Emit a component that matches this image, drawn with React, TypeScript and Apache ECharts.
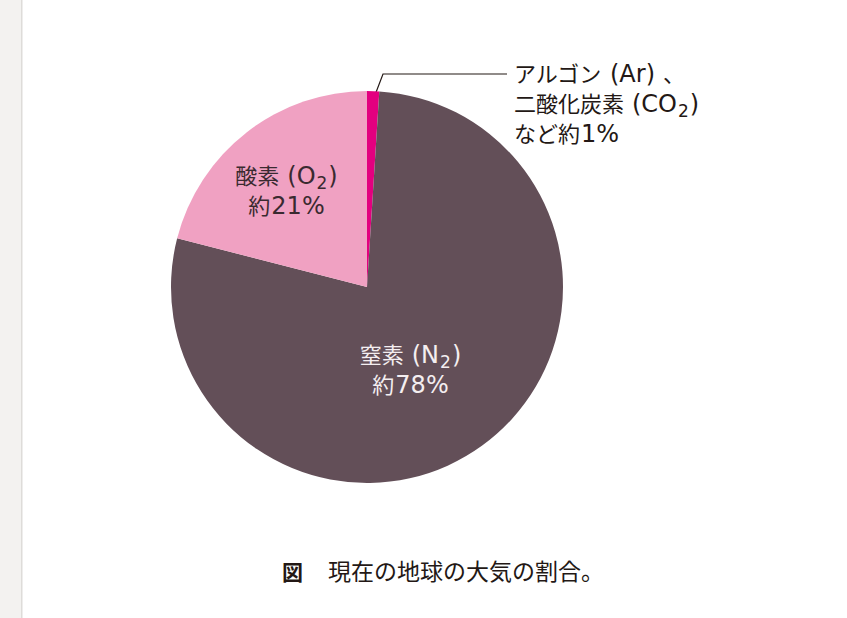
import React, { useEffect, useRef } from "react";
import * as echarts from "echarts";

const names = ["アルゴン (Ar)、二酸化炭素 (CO2) など", "窒素 (N2)", "酸素 (O2)"];
const values = [1, 78, 21];
const labelTexts = [
  "アルゴン {l|(Ar)} 、\n二酸化炭素 {l|(CO}{sub|2}{l|)}\nなど約{l|1%}",
  "窒素 {l|(N}{sub|2}{l|)}\n約{l|78%}",
  "酸素 {l|(O}{sub|2}{l|)}\n約{l|21%}",
];
const colors = ["#e3007f", "#634f58", "#f0a1c2"];
const textColors = ["#231815", "#f4eef0", "#3a2a30"];
const caption = "現在の地球の大気の割合。";

const FONT = '"DejaVu Sans", "Noto Sans CJK JP", sans-serif';
const CAP_FONT = '"Noto Sans CJK JP", sans-serif';

export default function App() {
  const ref = useRef<HTMLDivElement>(null);
  useEffect(() => {
    document.body.style.margin = "0";
    const chart = echarts.init(ref.current!, null, { renderer: "svg" });
    const labelPos: any[] = [
      { x: 514, y: 59, align: "left", verticalAlign: "top", pts: [[375, 95], [383, 74], [507, 74]] },
      { x: 411, y: 370, align: "center", verticalAlign: "middle" },
      { x: 287, y: 191, align: "center", verticalAlign: "middle" },
    ];
    const mkRich = (c: string) => ({
      l: { fontSize: 24, color: c, fontFamily: FONT, lineHeight: 30, padding: [0, 1, 0, 1] },
      sub: { fontSize: 17, color: c, fontFamily: FONT, lineHeight: 16, verticalAlign: "bottom" },
    });
    chart.setOption({
      animation: false,
      backgroundColor: "#ffffff",
      graphic: [
        { type: "rect", shape: { x: 0, y: 0, width: 21, height: 618 }, style: { fill: "#f3f2f0" }, silent: true },
        { type: "rect", shape: { x: 21, y: 0, width: 1.5, height: 618 }, style: { fill: "#dedcd9" }, silent: true },
        {
          type: "text",
          left: 282,
          top: 560,
          style: { text: "図", fontSize: 21, fontWeight: "bold", fontFamily: CAP_FONT, fill: "#231815" },
        },
        {
          type: "text",
          left: 328,
          top: 558,
          style: { text: caption, fontSize: 23, fontFamily: CAP_FONT, fill: "#231815" },
        },
      ],
      series: [
        {
          type: "pie",
          center: [367, 287],
          radius: 196,
          startAngle: 90,
          clockwise: true,
          avoidLabelOverlap: false,
          data: values.map((v, i) => ({
            name: names[i],
            value: v,
            itemStyle: { color: colors[i] },
            label: {
              show: true,
              position: i === 0 ? "outside" : "inside",
              formatter: labelTexts[i],
              color: textColors[i],
              fontSize: 22,
              lineHeight: 30,
              fontFamily: FONT,
              align: i === 0 ? "left" : "center",
              rich: mkRich(textColors[i]),
            },
            labelLine: {
              show: i === 0,
              lineStyle: { color: "#231815", width: 1.2 },
            },
          })),
          labelLayout: (p: any) => {
            const lp = labelPos[p.dataIndex];
            const r: any = { x: lp.x, y: lp.y, align: lp.align, verticalAlign: lp.verticalAlign };
            if (lp.pts) r.labelLinePoints = lp.pts;
            return r;
          },
        },
      ],
    });
    return () => chart.dispose();
  }, []);
  return (
    <div
      ref={ref}
      style={{ position: "fixed", left: 0, top: 0, width: 847, height: 618 }}
    />
  );
}
